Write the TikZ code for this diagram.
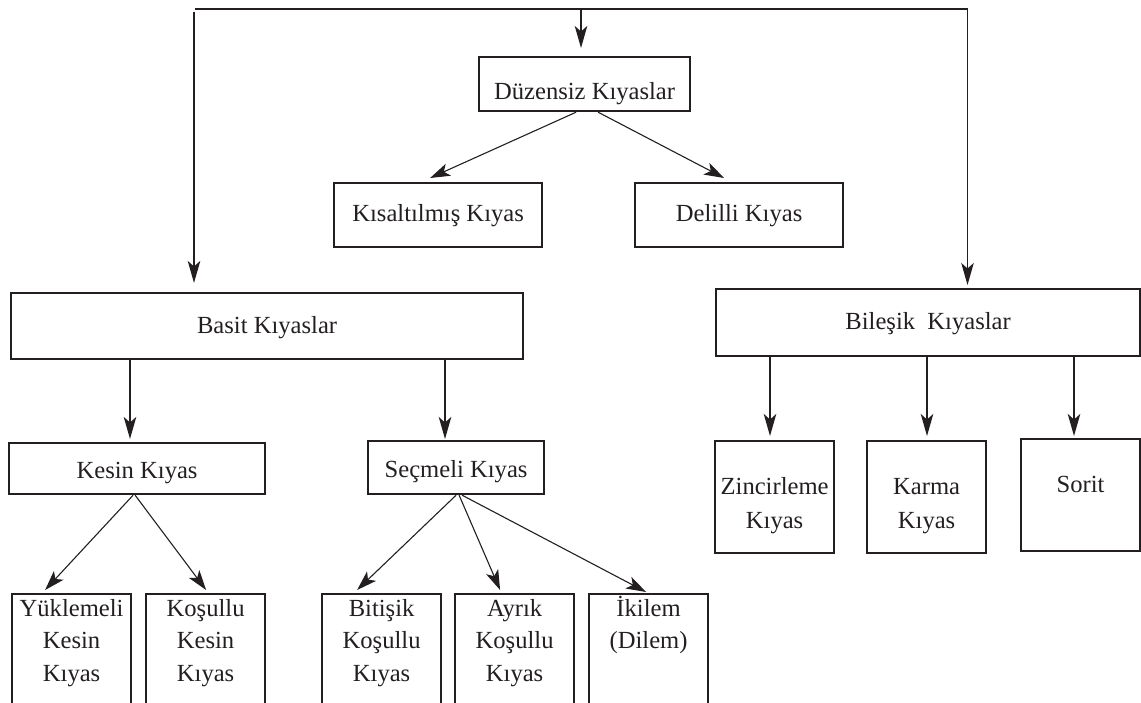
\documentclass[tikz,border=0pt]{standalone}
\usepackage{fontspec}
\setmainfont{Liberation Serif}
\usetikzlibrary{arrows.meta,calc}
\definecolor{ink}{HTML}{231F20}
% box content: width, height, first-baseline offset, text
\newcommand\boxtxt[4]{\parbox[t][#2][t]{#1}{\centering\rule{0pt}{#3}#4}}
\begin{document}
\begin{tikzpicture}[x=1pt,y=-1pt,
  font=\fontsize{24.6}{32.5}\selectfont,
  every node/.style={text=ink},
  box/.style={draw=ink, line width=2.2pt, inner sep=0pt, anchor=north west},
  link/.style={draw=ink, line width=1.6pt},
  arr/.style={draw=ink, line width=1.6pt, -{Stealth[length=22pt,width=12.5pt,inset=5.5pt]}},
  darr/.style={draw=ink, line width=1.1pt, -{Stealth[length=20pt,width=13pt,inset=5pt]}}]
\useasboundingbox (0,0) rectangle (1141,703);
\clip (0,0) rectangle (1141,703);

% upper level
\node[box] (duz) at (478,56)  {\boxtxt{211pt}{54pt}{42pt}{Düzensiz Kıyaslar}};
\node[box] (kis) at (333,182) {\boxtxt{208pt}{64pt}{38pt}{Kısaltılmış Kıyas}};
\node[box] (del) at (634,182) {\boxtxt{208pt}{64pt}{38pt}{Delilli Kıyas}};

% main groups
\node[box] (basit) at (10,292) {\boxtxt{512pt}{66pt}{40pt}{Basit Kıyaslar}};
\node[box] (bil)   at (715,288) {\boxtxt{424pt}{67pt}{40pt}{Bileşik\ \ Kıyaslar}};

% simple syllogisms
\node[box] (kes) at (8,442)   {\boxtxt{256pt}{51pt}{35pt}{Kesin Kıyas}};
\node[box] (sec) at (367,440) {\boxtxt{176pt}{53pt}{36pt}{Seçmeli Kıyas}};

\node[box] (yuk) at (11,593)  {\boxtxt{119pt}{130pt}{22pt}{Yüklemeli\\Kesin\\Kıyas}};
\node[box] (kos) at (145,593) {\boxtxt{119pt}{130pt}{22pt}{Koşullu\\Kesin\\Kıyas}};
\node[box] (bit) at (321,593) {\boxtxt{119pt}{130pt}{22pt}{Bitişik\\Koşullu\\Kıyas}};
\node[box] (ayr) at (454,593) {\boxtxt{119pt}{130pt}{22pt}{Ayrık\\Koşullu\\Kıyas}};
\node[box] (iki) at (588,593) {\boxtxt{119pt}{130pt}{22pt}{İkilem\\(Dilem)}};

% compound syllogisms
\node[box] (zin) at (714,440)  {\boxtxt{119pt}{112pt}{53pt}{\fontsize{24.6}{34}\selectfont Zincirleme\\Kıyas}};
\node[box] (kar) at (866,440)  {\boxtxt{119pt}{112pt}{53pt}{\fontsize{24.6}{34}\selectfont Karma\\Kıyas}};
\node[box] (sor) at (1020,438) {\boxtxt{119pt}{112pt}{53pt}{Sorit}};

% top distribution line
\coordinate (tl) at (194,12);
\coordinate (th) at (195,9);
\coordinate (tm) at (581,9);
\coordinate (tr) at (967.5,9);
\draw[link] (th) -- (tr);
\draw[arr, shorten >=9pt] (tl) -- ($(basit.north west)+(184,0)$);
\draw[arr, shorten >=8pt] (tm) -- ($(duz.north west)+(103,0)$);
\draw[arr, shorten >=3pt] (tr) -- ($(bil.north west)+(252.5,0)$);

% irregular syllogisms
\draw[darr] ($(duz.south)+(-8.5,0)$) -- ($(kis.north)+(-8,-4)$);
\draw[darr] ($(duz.south)+(13.5,0)$) -- ($(del.north)+(-15,-4)$);

% simple syllogisms
\draw[arr, shorten >=3pt] ($(basit.south west)+(120,0)$) -- ($(kes.north west)+(122,0)$);
\draw[arr, shorten >=1pt] ($(basit.south west)+(435,0)$) -- ($(sec.north west)+(78,0)$);
\draw[darr] ($(kes.south)+(-4,0)$) -- ($(yuk.north)+(-26.5,-3)$);
\draw[darr] ($(kes.south)+(-2,0)$) -- ($(kos.north)+(0.5,-3)$);
\draw[darr] ($(sec.south)+(0,0)$) -- ($(bit.north)+(-24.5,-3)$);
\draw[darr] ($(sec.south)+(3,0)$) -- ($(ayr.north)+(-14.5,-3)$);
\draw[darr] ($(sec.south)+(6,0)$) -- ($(iki.north)+(-2.5,-1)$);

% compound syllogisms
\draw[arr, shorten >=4pt] ($(bil.south west)+(55,0)$) -- ($(zin.north west)+(56,0)$);
\draw[arr, shorten >=4pt] ($(bil.south west)+(212,0)$) -- ($(kar.north west)+(61,0)$);
\draw[arr, shorten >=2pt] ($(bil.south west)+(359,0)$) -- ($(sor.north west)+(54,0)$);
\end{tikzpicture}
\end{document}
